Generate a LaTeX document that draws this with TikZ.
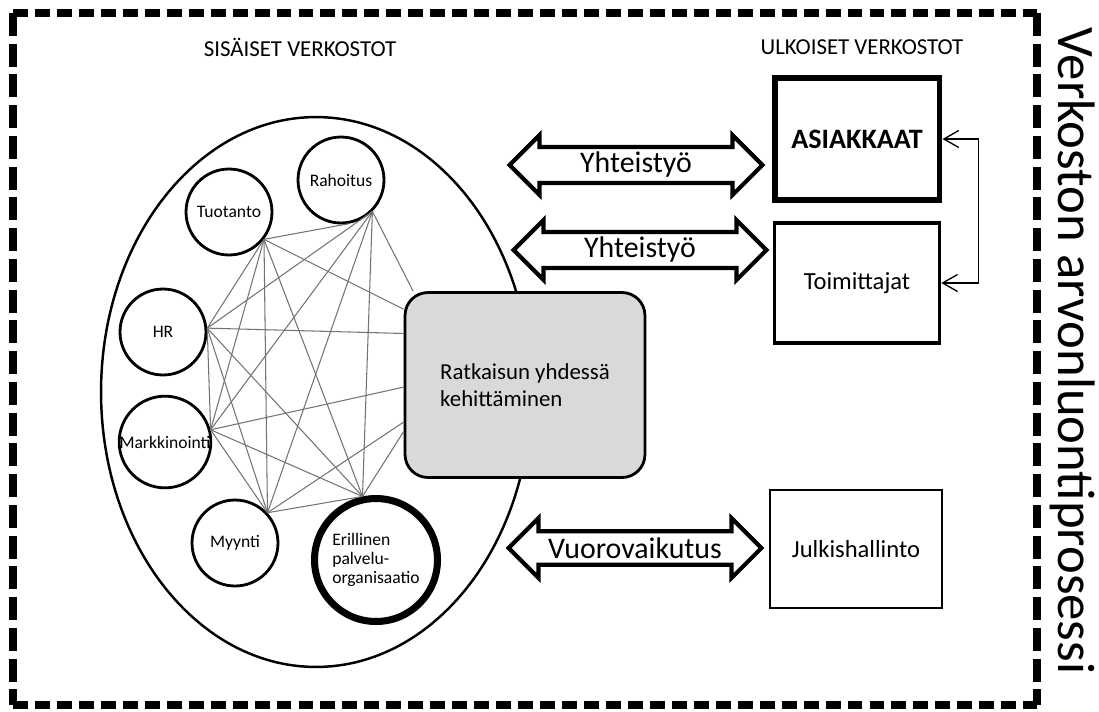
\documentclass[tikz,border=0pt]{standalone}
\usepackage{fontspec}
\setmainfont{Carlito}
\usetikzlibrary{shapes.arrows,arrows.meta}

\begin{document}
\begin{tikzpicture}[x=0.02cm,y=-0.02cm,
    unit/.style={circle,draw,line width=1.6pt,minimum size=1.72cm,inner sep=0pt,font=\fontsize{10}{11}\selectfont},
    partner/.style={rectangle,draw,minimum width=3.3cm,minimum height=2.4cm,font=\fontsize{14}{16}\selectfont},
    link/.style={double arrow,draw,line width=2.4pt,double arrow head extend=0.2cm,minimum width=1.2cm,minimum height=5.06cm,inner sep=0pt,font=\fontsize{17}{19}\selectfont},
    web/.style={black!55,line width=0.6pt},
    frame/.style={line width=4pt}]
            \useasboundingbox (0,0) rectangle (1099,711);

            % Rahmen
            \draw[frame,dash pattern=on 8.5pt off 4pt] (13,13) -- (1037,13);
            \draw[frame,dash pattern=on 8.5pt off 4pt] (13,705) -- (1037,705);
            \draw[frame,dash pattern=on 13pt off 4.5pt] (13,13) -- (13,705);
            \draw[frame,dash pattern=on 13pt off 4.5pt] (1037,13) -- (1037,705);
            \node[rotate=-90,anchor=base,inner sep=0pt,font=\fontsize{30}{34}\selectfont] (proc) at (1058,351) {Verkoston arvonluontiprosessi};

            \node[font=\fontsize{13}{15}\selectfont] (sis) at (300,47) {SISÄISET VERKOSTOT};
            \node[font=\fontsize{13}{15}\selectfont] (ulk) at (862,47) {ULKOISET VERKOSTOT};

            % sisaiset
            \draw[line width=1.4pt] (316,392) ellipse [x radius=4.3cm,y radius=5.5cm];
            \node[unit] (tuo) at (229,212) {Tuotanto};
            \node[unit] (rah) at (341,180) {Rahoitus};
            \node[unit] (hr) at (163,332) {HR};
            \node[unit] (mar) at (165,442) {Markkinointi};
            \node[unit] (myy) at (235,543) {Myynti};
            \node[unit,line width=4pt,minimum size=2.46cm,align=left,font=\fontsize{10}{10.9}\selectfont] (eri) at (376,560) {Erillinen\\palvelu-\\organisaatio};
            \node[draw,line width=1.6pt,fill=black!15,rounded corners=0.46cm,minimum width=4.8cm,minimum height=3.7cm,align=left,font=\fontsize{13}{15.3}\selectfont] (rat) at (525,385) {Ratkaisun yhdessä\\kehittäminen};

            \draw[web] (tuo.-38) -- (rah.-80);
            \draw[web] (tuo.-38) -- (hr.5);
            \draw[web] (tuo.-38) -- (mar.15);
            \draw[web] (tuo.-38) -- (myy.43);
            \draw[web] (tuo.-38) -- (eri.102);
            \draw[web] (tuo.-38) -- (rat.148);
            \draw[web] (rah.-45) -- (hr.5);
            \draw[web] (rah.-45) -- (mar.15);
            \draw[web] (rah.-45) -- (myy.43);
            \draw[web] (rah.-45) -- (eri.102);
            \draw[web] (rah.-45) -- (rat.140);
            \draw[web] (hr.5) -- (mar.15);
            \draw[web] (hr.5) -- (myy.43);
            \draw[web] (hr.5) -- (eri.102);
            \draw[web] (hr.5) -- (rat.157);
            \draw[web] (mar.15) -- (myy.43);
            \draw[web] (mar.15) -- (eri.102);
            \draw[web] (mar.15) -- (rat.181);
            \draw[web] (myy.43) -- (eri.102);
            \draw[web] (myy.43) -- (rat.197);
            \draw[web] (eri.102) -- (rat.201);

            % ulkoiset
            \node[partner,line width=3.4pt,font=\fontsize{16}{18}\selectfont\bfseries,minimum height=2.44cm] (asi) at (857,139) {ASIAKKAAT};
            \node[partner,line width=2pt] (toi) at (857,283) {Toimittajat};
            \node[partner,line width=1.2pt,minimum width=3.44cm,minimum height=2.36cm] (jul) at (856,549) {Julkishallinto};

            \node[link] (yht1) at (636,165) {Yhteistyö};
            \node[link] (yht2) at (640,250) {Yhteistyö};
            \node[link] (vuo) at (635,548) {Vuorovaikutus};

            \draw[line width=0.75pt,{Straight Barb[length=0.3cm,width=0.34cm]}-{Straight Barb[length=0.3cm,width=0.34cm]}] (asi.east) -- ++(36,0) |- (toi.east);
        \end{tikzpicture}
\end{document}
